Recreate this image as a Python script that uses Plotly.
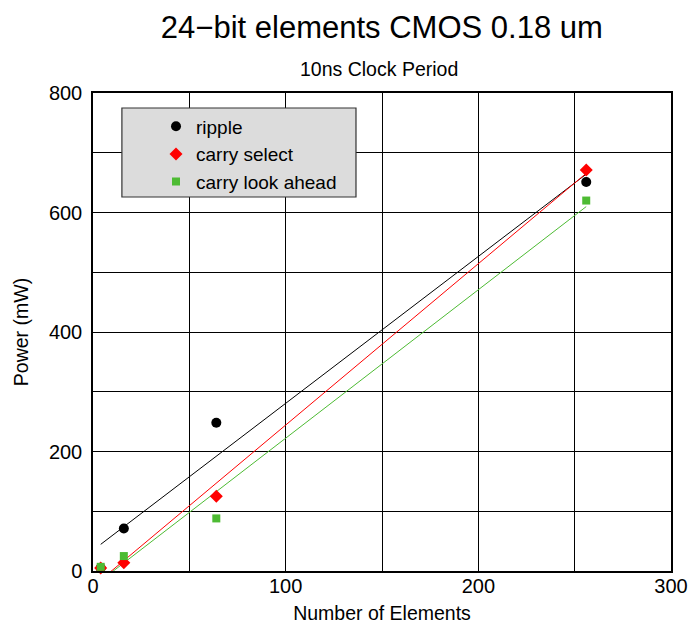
import numpy as np
import plotly.graph_objects as go

# Number of elements per adder configuration
elements = [4, 16, 64, 256]

# Measured power (mW) at a 10 ns clock period
ripple = [5, 71, 248, 651]
carry_select = [5, 14, 125, 671]
carry_look_ahead = [7, 25, 88, 620]

series = [
    ("ripple", ripple, "black", "circle", 10),
    ("carry select", carry_select, "#ff0000", "diamond", 10),
    ("carry look ahead", carry_look_ahead, "#4dbb33", "square", 8),
]

FONT = "Liberation Sans, Arial, sans-serif"

fig = go.Figure()

# Least-squares trend line for each series over the measured range
for name, ys, color, symbol, size in series:
    slope, intercept = np.polyfit(elements, ys, 1)
    xs = np.array([elements[0], elements[-1]], dtype=float)
    fig.add_trace(go.Scatter(
        x=xs, y=slope * xs + intercept, mode="lines",
        line=dict(color=color, width=1), showlegend=False, hoverinfo="skip",
    ))

for name, ys, color, symbol, size in series:
    fig.add_trace(go.Scatter(
        x=elements, y=ys, mode="markers", name=name,
        marker=dict(color=color, symbol=symbol, size=size, line=dict(width=0)),
        cliponaxis=False,
    ))

# Grey legend panel
fig.add_shape(
    type="rect", xref="paper", yref="paper",
    x0=0.050, x1=0.455, y0=0.7824, y1=0.9686,
    fillcolor="#dcdcdc", line=dict(color="#333333", width=1.2), layer="above",
)

axis_common = dict(
    showline=True, linecolor="black", linewidth=1.5, mirror=True,
    showgrid=True, gridcolor="black", gridwidth=1,
    zeroline=False, ticks="", automargin=False,
    tickfont=dict(size=20, color="black", family=FONT),
)

fig.update_layout(
    width=693, height=631,
    margin=dict(l=93, r=22, t=93, b=60),
    paper_bgcolor="white", plot_bgcolor="white",
    font=dict(family=FONT, color="black"),
    title=dict(text="24\u2212bit elements CMOS 0.18 um", x=0.551, xanchor="center",
               y=0.957, yanchor="middle", font=dict(size=31, family=FONT)),
    xaxis=dict(
        range=[0, 300], dtick=100, tick0=0,
        minor=dict(dtick=50, showgrid=True, gridcolor="black", gridwidth=1),
        title=dict(text="Number of Elements", font=dict(size=19.5), standoff=11),
        ticklabelstandoff=-4,
        **axis_common,
    ),
    yaxis=dict(
        range=[0, 800], dtick=200, tick0=0,
        minor=dict(dtick=100, showgrid=True, gridcolor="black", gridwidth=1),
        title=dict(text="Power (mW)", font=dict(size=19.5)),
        ticklabelstandoff=5,
        **axis_common,
    ),
    legend=dict(
        x=0.109, y=0.970, xanchor="left", yanchor="top",
        bgcolor="rgba(0,0,0,0)", borderwidth=0,
        font=dict(size=19, family=FONT), tracegroupgap=0,
    ),
    annotations=[dict(
        text="10ns Clock Period", xref="paper", yref="paper",
        x=0.495, y=1.0, yshift=24, xanchor="center", yanchor="middle",
        showarrow=False, font=dict(size=19.5, family=FONT),
    )],
)

fig.write_html("out.html")
